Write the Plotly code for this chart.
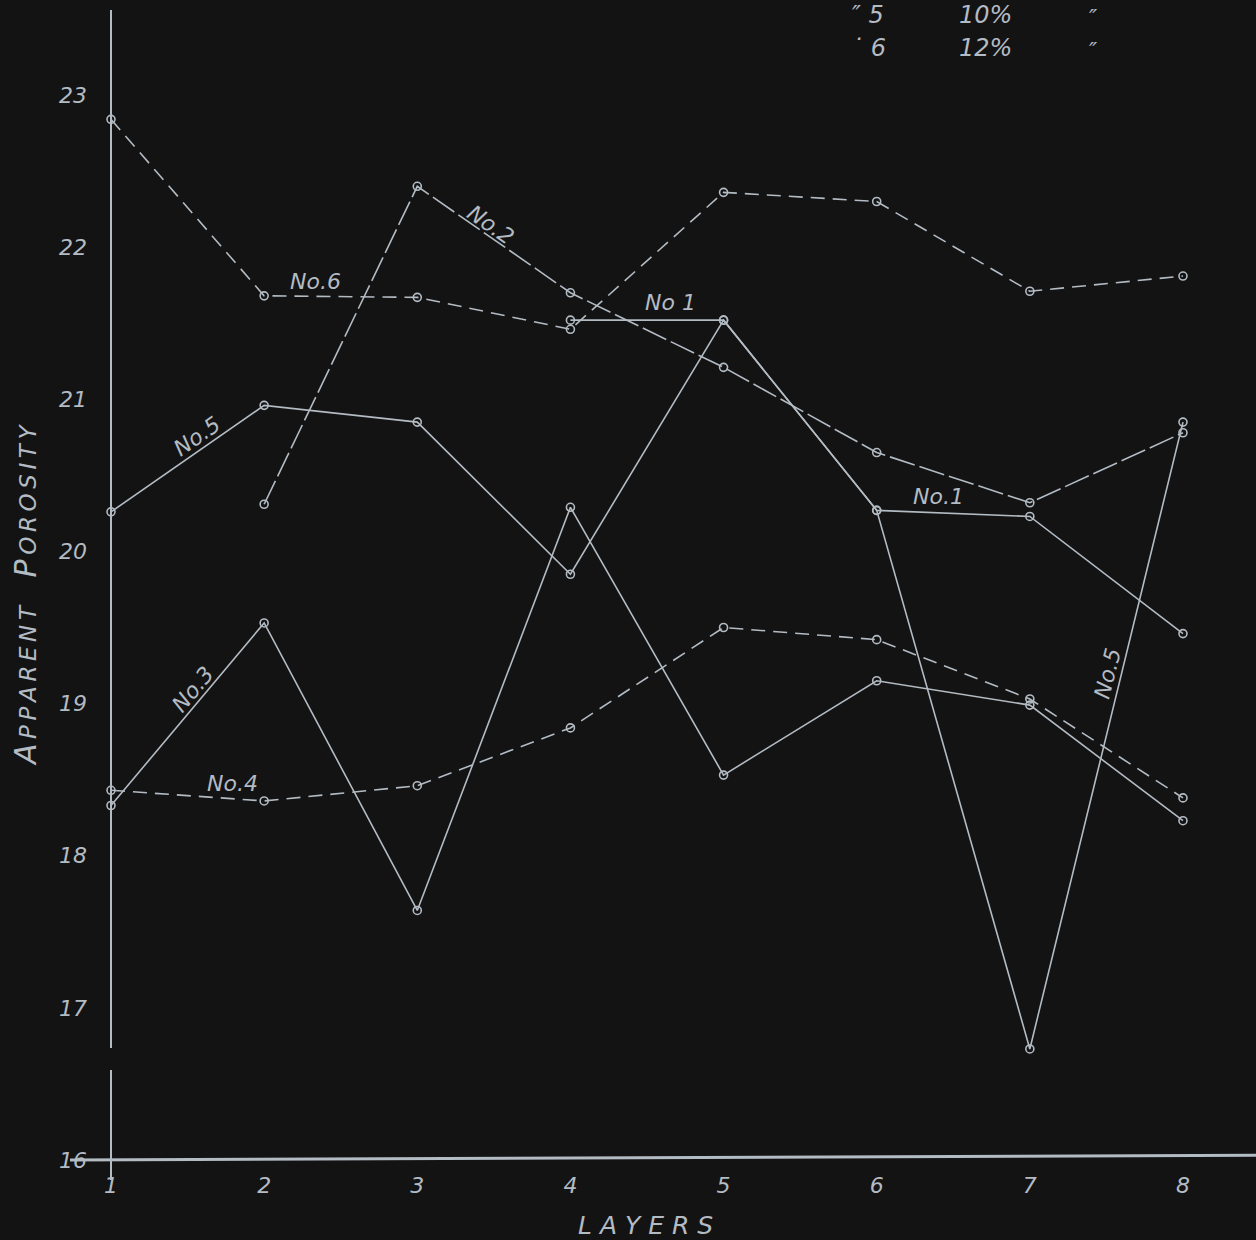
import plotly.graph_objects as go

# ---- data ----
layers = [1, 2, 3, 4, 5, 6, 7, 8]
layer_labels = ["1", "2", "3", "4", "5", "6", "7", "8"]
y_ticks = [16, 17, 18, 19, 20, 21, 22, 23]
y_tick_labels = ["16", "17", "18", "19", "20", "21", "22", "23"]

no1 = [None, None, None, 21.52, 21.52, 20.27, 20.23, 19.46]
no2 = [None, 20.31, 22.40, 21.70, 21.21, 20.65, 20.32, 20.78]
no3 = [18.33, 19.53, 17.64, 20.29, 18.53, 19.15, 18.99, 18.23]
no4 = [18.43, 18.36, 18.46, 18.84, 19.50, 19.42, 19.03, 18.38]
no5 = [20.26, 20.96, 20.85, 19.85, 21.52, 20.27, 16.73, 20.85]
no6 = [22.84, 21.68, 21.67, 21.46, 22.36, 22.30, 21.71, 21.81]

series = [
    ("No.1", no1, "solid"),
    ("No.2", no2, "26px,5px"),
    ("No.3", no3, "solid"),
    ("No.4", no4, "14px,8px"),
    ("No.5", no5, "solid"),
    ("No.6", no6, "14px,8px"),
]

BG = "#131314"
INK = "#b3bbc3"
FONT = "DejaVu Sans"

W, H = 1256, 1240
ML, MB = 100, 80

# pixel -> data helpers for label placement
def px2x(px):
    return 1 + (px - 111) / 153.14

def px2y(py):
    return 23 - (py - 95) / 152.15

fig = go.Figure()
for name, vals, dash in series:
    fig.add_trace(go.Scatter(
        x=layers, y=vals, mode="lines+markers", name=name,
        line=dict(color=INK, width=1.6, dash=dash),
        marker=dict(symbol="circle-open", size=8, color=INK, line=dict(width=1.6)),
        connectgaps=False, cliponaxis=False, showlegend=False,
    ))

x0 = px2x(ML)
x1 = px2x(W)
fig.update_xaxes(range=[x0, x1], showgrid=False, zeroline=False, showline=False,
                 tickvals=layers, ticktext=layer_labels, ticks="",
                 tickfont=dict(family=FONT, size=22, color=INK, style="italic"),
                 ticklabelstandoff=10)
fig.update_yaxes(range=[16, px2y(0)], showgrid=False, zeroline=False, showline=False,
                 tickvals=y_ticks, ticktext=y_tick_labels, ticks="",
                 tickfont=dict(family=FONT, size=22, color=INK, style="italic"),
                 ticklabelstandoff=12)

shapes = []
# y axis line (with gap)
shapes.append(dict(type="line", xref="x", yref="y", x0=1, x1=1,
                   y0=px2y(10), y1=px2y(1048), line=dict(color=INK, width=2)))
shapes.append(dict(type="line", xref="x", yref="paper", x0=1, x1=1,
                   y0=(1160 - 1070) / 1160, y1=-(20 / 1160), line=dict(color=INK, width=2)))
# x axis line
shapes.append(dict(type="line", xref="paper", yref="paper",
                   x0=(70 - ML) / (W - ML), x1=1, y0=0, y1=0.004,
                   line=dict(color=INK, width=3)))

ann = []
def label(text, px, py, angle=0, size=22):
    ann.append(dict(text=text, x=px2x(px), y=px2y(py), xref="x", yref="y",
                    showarrow=False, textangle=angle,
                    font=dict(family=FONT, size=size, color=INK, style="italic")))

label("No.6", 315, 282)
label("No.2", 490, 225, 35)
label("No 1", 670, 303)
label("No.5", 197, 437, -35)
label("No.3", 193, 690, -50)
label("No.4", 232, 784)
label("No.1", 938, 497)
label("No.5", 1108, 674, -76)

# top-right legend fragment
label("\u2033 5", 868, 15, 0, 24)
label("10%", 985, 15, 0, 24)
label("\u2033", 1093, 17, 0, 22)
label("\u02d9 6", 868, 48, 0, 24)
label("12%", 985, 48, 0, 24)
label("\u2033", 1093, 50, 0, 22)

ts = "\u2009"
def spaced(word):
    return ts.join(word)

ytitle = ("A<span style='font-size:23px'>" + ts + spaced("PPARENT") + "</span>"
          + "   P<span style='font-size:23px'>" + ts + spaced("OROSITY") + "</span>")
ann.append(dict(text=ytitle, x=(25 - ML) / (W - ML), y=(H - MB - 595) / (H - MB),
                xref="paper", yref="paper",
                showarrow=False, textangle=-90, yanchor="middle", xanchor="center",
                font=dict(family=FONT, size=30, color=INK, style="italic")))
ann.append(dict(text=" ".join("LAYERS"), x=(645 - ML) / (W - ML), y=(H - MB - 1225) / (H - MB),
                xref="paper", yref="paper",
                showarrow=False, yanchor="middle", xanchor="center",
                font=dict(family=FONT, size=25, color=INK, style="italic")))

fig.update_layout(width=W, height=H, paper_bgcolor=BG, plot_bgcolor=BG,
                  margin=dict(l=ML, r=0, t=0, b=MB, autoexpand=False),
                  shapes=shapes, annotations=ann)

fig.write_html("out.html", config={"displayModeBar": False},
               post_script="document.body.style.margin='0';document.body.style.background='%s';" % BG)
